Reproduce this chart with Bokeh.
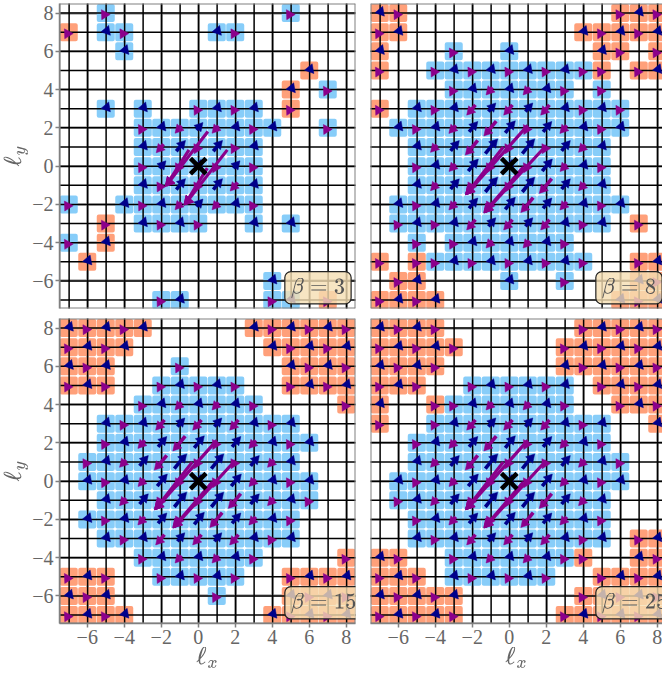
from bokeh.plotting import figure
from bokeh.layouts import column, row
from bokeh.models import Label, Span, FixedTicker, ColumnDataSource
from bokeh.embed import file_html
from bokeh.resources import INLINE

# rows run from l_y = 8 down to l_y = -7; columns from l_x = -7 to l_x = 8
BETAS = [3, 8, 15, 25]
CELLS_3 = [
    "..b.........b...", "o.bb....bb......", "...b............", ".............o..",
    "............o.b.", "..b.b..bbbb.o...", "....bbbbbbbb..b.", "....bbbbbbb.....",
    "....bbbbbbb.....", "....bbbbbbb.....", "b..bbbbbbbb.....", "..o.bbbb..b.b...",
    "b.o.............", ".o..............", "...........b....", ".....bb....bb.o.",
]
CELLS_8 = [
    "oo...........ooo", "oo.........ooooo", "o...b..b....oo.o", "o..bbbbbbbbbo.oo",
    "....bbbbbbb.b...", "o.bbbbbbbbbbbb..", ".bbbbbbbbbbbbb..", "..bbbbbbbbbbb...",
    "..bbbbbbbbbbb...", "..bbbbbbbbbbb...", ".bbbbbbbbbbbbb..", ".bbbbbbbbbbbb.o.",
    "..b.bbbbbbb.....", "o.obbbbbbbbb..oo", ".oo....b..b...oo", "oooo.........ooo",
]
CELLS_15 = [
    "ooooo.....oooooo", "oooo.......ooooo", "ooo...b.....oooo", "ooo..bbbbb..oooo",
    "....bbbbbbb....o", "..bbbbbbbbbbb...", "..bbbbbbbbbbbb..", ".bbbbbbbbbbbb...",
    ".bbbbbbbbbbbbb..", "..bbbbbbbbbbbb..", ".bbbbbbbbbbbb...", "..bbbbbbbbbbb...",
    "....bbbbbbb....o", "ooo..bbbbb..oooo", "ooo.....b...oooo", "oooo.......ooooo",
]
CELLS_25 = [
    "oooo.......ooooo", "ooooo.....oooooo", "oooo......oooooo", "ooo..bbbbbb.oooo",
    "o..obbbbbbb..ooo", "o..bbbbbbbbbb..o", "..bbbbbbbbbbb...", "..bbbbbbbbbbbb..",
    ".bbbbbbbbbbbbb..", ".bbbbbbbbbbbb...", "..bbbbbbbbbbb...", "..bbbbbbbbbbb.oo",
    "oo..bbbbbbbo..oo", "ooo.bbbbbb..oooo", "ooooo......ooooo", "ooooo.....oooooo",
]
ALL_CELLS = [CELLS_3, CELLS_8, CELLS_15, CELLS_25]

TICKS = [-6, -4, -2, 0, 2, 4, 6, 8]
TICK_LABELS = {t: str(t).replace("-", "\u2212") for t in TICKS}
LATTICE = list(range(-7, 9))

# shaft lengths of the arrows near the centre (data units)
LEN_STRONG = {
    (-1, 2): .95, (-2, 1): .95, (2, -1): .95, (1, -2): .95,
    (-1, 1): .95, (1, 1): .95, (-1, -1): .95, (1, -1): .95,
    (0, 2): .7, (-2, 0): .7, (2, 0): .7, (0, -2): .7,
    (-2, 2): .55, (2, 2): .55, (-2, -2): .55, (2, -2): .55,
    (0, 3): .55, (-2, 3): .55, (2, 3): .55, (0, -3): .55, (-2, -3): .55, (2, -3): .55,
    (-3, 1): .55, (3, 1): .55, (-3, -1): .55, (3, -1): .55,
    (-3, 2): .35, (3, 2): .35, (-3, -2): .35, (3, -2): .35,
    (-1, 3): .4, (1, 3): .4, (-1, -3): .4, (1, -3): .4,
    (-3, 0): .3, (3, 0): .3, (-1, 4): .3, (1, 4): .3, (-1, -4): .3, (1, -4): .3,
    (-4, 1): .3, (4, 1): .3, (-4, -1): .3, (4, -1): .3,
}
LEN_WEAK = {
    (-1, 1): .6, (1, 1): .6, (-1, -1): .6, (1, -1): .6,
    (-2, 1): .4, (2, -1): .4, (-1, 2): .3, (1, 2): .3, (1, -2): .3, (-1, -2): .3,
    (0, 2): .3, (-2, 0): .3, (2, 0): .3, (0, -2): .3,
}
ALL_LEN = [LEN_WEAK, LEN_STRONG, LEN_STRONG, LEN_STRONG]

# big arrows: tail x, tail y, tip x, tip y
BIG_WEAK = [(0.52, 1.81, -1.73, -1.01), (-0.5, 0.85, -1.73, -1.01),
            (1.57, 0.85, -0.72, -1.99), (0.49, -0.1, -0.72, -1.99)]
BIG_STRONG = [(1.0, 2.13, -2.31, -1.45), (-0.32, 1.0, -2.31, -1.45),
              (2.0, 1.08, -1.32, -2.4), (0.76, -0.05, -1.32, -2.4)]
ALL_BIG = [BIG_WEAK, BIG_STRONG, BIG_STRONG, BIG_STRONG]

BLUE, ORANGE = "#87CDF9", "#FFA07A"
PURPLE, NAVY = "#8B008B", "#00008B"
SPINE = "#808080"
TXT = "#666666"
SERIF = "Liberation Serif"
XR = (-7.5, 8.5)
YR = (-7.44, 8.5)


def panel(i):
    left_col = i % 2 == 0
    bottom_row = i >= 2
    fw = 296 if left_col else 292
    xr = XR if left_col else (XR[0], XR[0] + 292 / 18.5)
    bl = 59 if left_col else 5
    br = 10 if left_col else 0
    bt = 3 if i < 2 else 5
    bb = 5 if i < 2 else 50
    p = figure(width=bl + fw + br, height=bt + 305 + bb, x_range=xr, y_range=YR,
               min_border_left=bl, min_border_right=br, min_border_top=bt, min_border_bottom=bb,
               output_backend="svg", toolbar_location=None, outline_line_color=None,
               background_fill_color="white")

    for ax, tick in ((p.xaxis[0], TICKS), (p.yaxis[0], TICKS)):
        ax.ticker = FixedTicker(ticks=tick)
        ax.major_label_overrides = TICK_LABELS
        ax.major_label_text_font = SERIF
        ax.major_label_text_font_size = "20px"
        ax.major_label_text_color = TXT
        ax.major_tick_line_color = SPINE
        ax.major_tick_line_width = 1.5
        ax.major_tick_in = 0
        ax.major_tick_out = 4
        ax.minor_tick_line_color = None
        ax.axis_line_color = SPINE
        ax.axis_line_width = 1.5
        ax.major_label_standoff = 2
        ax.axis_label_text_color = TXT
    p.xaxis.visible = bottom_row
    p.yaxis.visible = left_col
    if bottom_row:
        p.xaxis.axis_label = r"$$\ell_x$$"
        p.xaxis.axis_label_text_font_size = "21px"
        p.xaxis.axis_label_standoff = 0
    if left_col:
        p.yaxis.axis_label = r"$$\ell_y$$"
        p.yaxis.axis_label_text_font_size = "21px"
        p.yaxis.axis_label_standoff = 1

    p.grid.grid_line_color = "#a8a8a8"
    p.grid.grid_line_width = 2.5

    # frame edges
    p.add_layout(Span(location=YR[1], dimension="width", line_color=SPINE, line_width=2))
    p.add_layout(Span(location=XR[0], dimension="height", line_color=SPINE, line_width=2))
    if left_col:
        p.add_layout(Span(location=XR[1], dimension="height", line_color=SPINE, line_width=2))
    p.add_layout(Span(location=YR[0], dimension="width", line_color=SPINE, line_width=2))

    xs, ys, cols = [], [], []
    far_x, far_y, far_c, far_a = [], [], [], []
    seg = {"x0": [], "y0": [], "x1": [], "y1": [], "c": []}
    tips = {"x": [], "y": [], "c": [], "a": []}
    for r, line in enumerate(ALL_CELLS[i]):
        y = 8 - r
        for c, ch in enumerate(line):
            if ch == ".":
                continue
            x = c - 7
            xs.append(x)
            ys.append(y)
            cols.append(BLUE if ch == "b" else ORANGE)
            is_purple = ((x + y) % 2 == 1) == (ch == "b")
            length = ALL_LEN[i].get((x, y))
            colour = PURPLE if is_purple else NAVY
            if length is None:
                far_x.append(x + (-.07 if is_purple else .05))
                far_y.append(y + (-.08 if is_purple else .07))
                far_c.append(colour)
                far_a.append(-88 if is_purple else 100)
            else:
                sign = -1 if is_purple else 1
                dx, dy = sign * length * .62 / 2, sign * length * .74 / 2
                seg["x0"].append(x - dx)
                seg["y0"].append(y - dy)
                seg["x1"].append(x + dx * .6)
                seg["y1"].append(y + dy * .6)
                seg["c"].append(colour)
                tips["x"].append(x + dx * .6)
                tips["y"].append(y + dy * .6)
                tips["c"].append(colour)
                tips["a"].append(138 if is_purple else -42)

    p.scatter(xs, ys, marker="square", size=14, fill_color=cols, line_color=cols,
              line_width=4, line_join="round")

    lo_x, hi_x = -8, 9
    p.segment([v + .02 for v in LATTICE], lo_x, [v + .02 for v in LATTICE], hi_x,
              line_color="black", line_width=1.5)
    p.segment(lo_x, LATTICE, hi_x, LATTICE, line_color="black", line_width=1.5)

    p.scatter(far_x, far_y, marker="triangle", size=10, color=far_c, angle=far_a,
              angle_units="deg", line_width=0.5)
    p.segment("x0", "y0", "x1", "y1", source=ColumnDataSource(seg), line_color="c", line_width=3.6)
    p.scatter("x", "y", source=ColumnDataSource(tips), marker="triangle", size=9.5, color="c",
              angle="a", angle_units="deg", line_width=0.5)

    big = list(zip(*ALL_BIG[i]))
    p.segment(big[0], big[1], big[2], big[3], line_color=PURPLE, line_width=3.2)
    p.scatter([v + .16 for v in big[2]], [v + .18 for v in big[3]], marker="triangle", size=10,
              color=PURPLE, angle=138, angle_units="deg")

    p.scatter([0], [0], marker="x", size=22, line_color="black", line_width=4.5)

    p.add_layout(Label(x=4.68, y=-7.2, text=r"$$\beta = %d$$" % BETAS[i], anchor="bottom_left",
                       text_font_size="17.5px", text_color="#555555",
                       background_fill_color="#F5DEB3", background_fill_alpha=.8,
                       border_line_color="#222222", border_line_width=1.2,
                       border_radius=6, padding=6))
    return p


plots = [panel(i) for i in range(4)]
root = column(row(plots[0], plots[1]), row(plots[2], plots[3]),
              styles={"position": "absolute", "left": "0px", "top": "0px"})
open("out.html", "w").write(file_html(root, INLINE))
